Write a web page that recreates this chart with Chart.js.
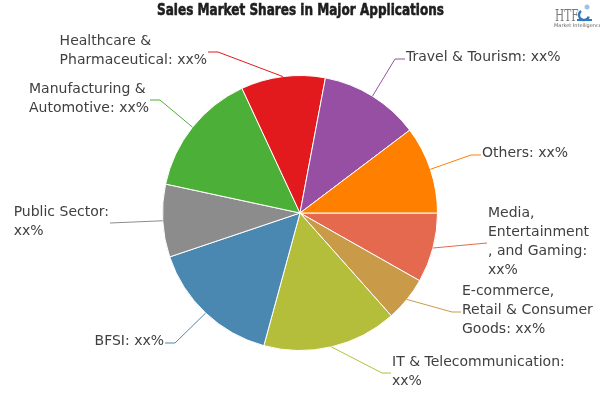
<!DOCTYPE html>
<html>
<head>
<meta charset="utf-8">
<script src="https://cdn.jsdelivr.net/npm/chart.js@4.4.1/dist/chart.umd.min.js"></script>
<style>
  html, body { margin: 0; padding: 0; background: #fff; }
</style>
</head>
<body>
<canvas id="shareChart" width="600" height="400"></canvas>
<script>
/* Data, in drawing order (clockwise from 3 o'clock) */

const categories = [
  "Media, Entertainment, and Gaming",
  "E-commerce, Retail & Consumer Goods",
  "IT & Telecommunication",
  "BFSI",
  "Public Sector",
  "Manufacturing & Automotive",
  "Healthcare & Pharmaceutical",
  "Travel & Tourism",
  "Others"
];

const shares = [8.2, 5.25, 15.8, 15.6, 8.55, 14.7, 9.9, 11.75, 10.3];

const labelLines = [
  ["Media,", "Entertainment", ", and Gaming:", "xx%"],
  ["E-commerce,", "Retail & Consumer", "Goods: xx%"],
  ["IT & Telecommunication:", "xx%"],
  ["BFSI: xx%"],
  ["Public Sector:", "xx%"],
  ["Manufacturing &", "Automotive: xx%"],
  ["Healthcare &", "Pharmaceutical: xx%"],
  ["Travel & Tourism: xx%"],
  ["Others: xx%"]
];

const titleText = "Sales Market Shares in Major Applications";

/* Styles and label layout */

const sliceColors = [
  "#e5694f", "#c99b48", "#b5be3b", "#4a88b2", "#8c8c8c",
  "#4caf37", "#e21a1e", "#964fa2", "#ff8000"
];

// end of connector: x, y, side of text, length of the flat part
const labelAnchors = [
  [487, 243, "right", 0],
  [461, 312, "right", 9],
  [391, 373, "right", 9],
  [165, 343, "left", 10],
  [110, 223, "left", 0],
  [150, 100, "left", 10],
  [208, 52, "left", 10],
  [405, 59, "right", 10],
  [481, 155, "right", 10]
];

const lineHeight = 19;

/* Plugins */

const pieLabels = {
  id: "pieLabels",
  afterDatasetsDraw(chart) {
    const ctx = chart.ctx;
    const arcs = chart.getDatasetMeta(0).data;
    ctx.save();
    ctx.font = '14px "DejaVu Sans"';
    ctx.textBaseline = "middle";
    ctx.textAlign = "left";

    arcs.forEach((arc, i) => {
      const { x, y, startAngle, endAngle, outerRadius } =
        arc.getProps(["x", "y", "startAngle", "endAngle", "outerRadius"], true);
      const mid = (startAngle + endAngle) / 2;
      const ex = x + Math.cos(mid) * outerRadius;
      const ey = y + Math.sin(mid) * outerRadius;

      const [ax, ay, side, flat] = labelAnchors[i];
      const bx = side === "right" ? ax - flat : ax + flat;

      ctx.strokeStyle = sliceColors[i];
      ctx.lineWidth = 1;
      ctx.beginPath();
      ctx.moveTo(ex, ey);
      ctx.lineTo(bx, ay);
      ctx.lineTo(ax, ay);
      ctx.stroke();

      const lines = labelLines[i];
      const blockW = Math.max(...lines.map(l => ctx.measureText(l).width));
      const tx = side === "right" ? ax + 1 : ax - 1 - blockW;
      const top = ay - 1.5 - (lines.length - 1) * lineHeight / 2;

      ctx.fillStyle = "#404040";
      lines.forEach((l, k) => ctx.fillText(l, tx, top + k * lineHeight));
    });
    ctx.restore();
  }
};

const titleAndLogo = {
  id: "titleAndLogo",
  afterDraw(chart) {
    const ctx = chart.ctx;
    ctx.save();

    // condensed heavy title
    ctx.font = 'bold 16px "DejaVu Sans"';
    ctx.textBaseline = "middle";
    ctx.textAlign = "left";
    const w = ctx.measureText(titleText).width;
    const targetW = 287;
    ctx.translate(157, 11);
    ctx.scale(targetW / w, 1);
    ctx.fillStyle = "#1e1e1e";
    ctx.fillText(titleText, 0, 0);
    ctx.strokeStyle = "#1e1e1e";
    ctx.lineWidth = 0.6;
    ctx.strokeText(titleText, 0, 0);
    ctx.restore();

    // small logo
    ctx.save();
    ctx.fillStyle = "#7a7a7a";
    ctx.font = '17px "DejaVu Serif"';
    ctx.textBaseline = "alphabetic";
    ctx.save();
    ctx.translate(555, 21);
    ctx.scale(0.62, 1);
    ctx.fillText("HTF", 0, 0);
    ctx.restore();

    ctx.strokeStyle = "#2f78bd";
    ctx.lineWidth = 2.5;
    ctx.beginPath();
    ctx.arc(584, 15, 5, Math.PI * 0.1, Math.PI * 1.3);
    ctx.stroke();
    ctx.fillStyle = "#9cc3e6";
    ctx.beginPath();
    ctx.arc(587, 7, 2.5, 0, Math.PI * 2);
    ctx.fill();
    ctx.fillStyle = "#2f78bd";
    ctx.fillRect(577, 19, 15, 2);

    ctx.fillStyle = "#666";
    ctx.font = '5px "DejaVu Sans"';
    ctx.fillText("Market Intelligence", 554, 27);
    ctx.restore();
  }
};

/* Chart */

new Chart(document.querySelector("#shareChart"), {
  type: "pie",
  data: {
    labels: categories,
    datasets: [
      {
        data: shares,
        backgroundColor: sliceColors,
        borderColor: "#ffffff",
        borderWidth: 1
      }
    ]
  },
  options: {
    responsive: false,
    animation: false,
    rotation: 90,
    layout: {
      padding: { top: 75, bottom: 49, left: 0, right: 0 }
    },
    plugins: {
      legend: { display: false },
      tooltip: { enabled: false }
    }
  },
  plugins: [pieLabels, titleAndLogo]
});
</script>
</body>
</html>
